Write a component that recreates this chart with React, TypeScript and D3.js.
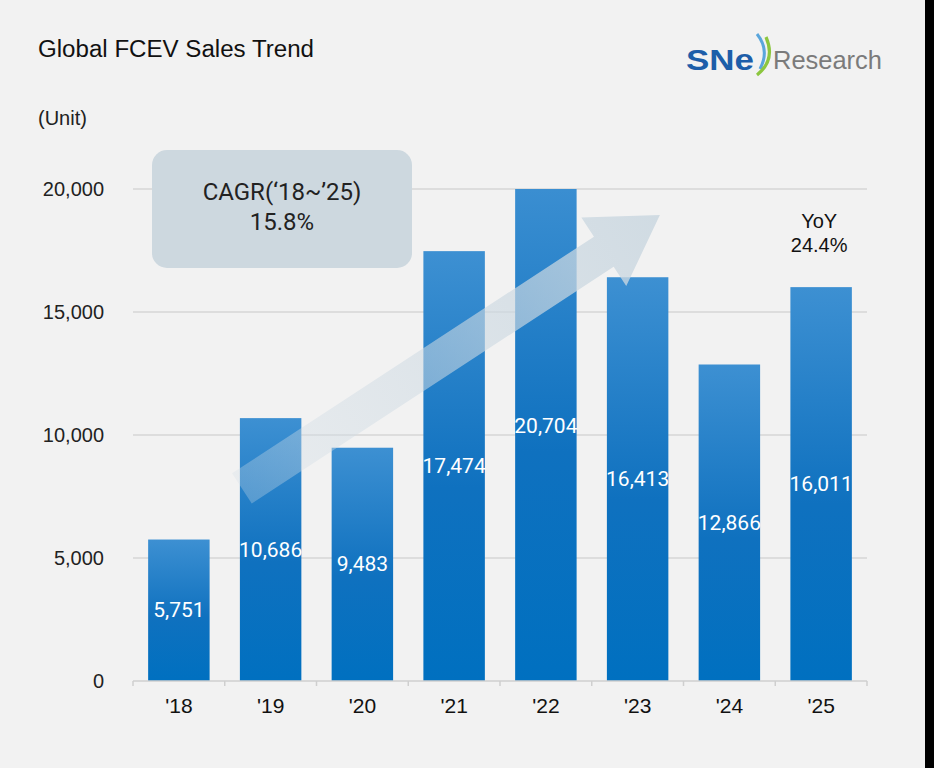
import React from "react";
import * as d3 from "d3";

// Global FCEV sales by year (units)
const years = ["'18", "'19", "'20", "'21", "'22", "'23", "'24", "'25"];
const sales = [5751, 10686, 9483, 17474, 20704, 16413, 12866, 16011];
const yTicks = [0, 5000, 10000, 15000, 20000];
const cagrLines = ["CAGR(\u201818~\u201925)", "15.8%"];
const yoyLines = ["YoY", "24.4%"];

const W = 934;
const H = 768;
const plot = { left: 133, right: 867, top: 189, bottom: 681 };

export default function App() {
  const x = d3
    .scaleBand<string>()
    .domain(years)
    .range([plot.left, plot.right])
    .paddingInner(0.33)
    .paddingOuter(0.165);
  const y = d3.scaleLinear().domain([0, 20000]).range([plot.bottom, plot.top]);
  const fmt = d3.format(",");
  const bw = x.bandwidth();
  const step = x.step();

  // growth arrow, anchored to the plot scales
  const T: [number, number] = [(x("'19") as number) + 2, y(7830)];
  const P: [number, number] = [(x("'23") as number) + 53, y(18940)];
  const dx = P[0] - T[0];
  const dy = P[1] - T[1];
  const L = Math.hypot(dx, dy);
  const u = [dx / L, dy / L];
  const n = [-u[1], u[0]];
  const headLen = 67;
  const halfShaft = 18;
  const halfHead = 41;
  const B = [P[0] - u[0] * headLen, P[1] - u[1] * headLen];
  const pt = (p: number[], k: number) => [p[0] + n[0] * k, p[1] + n[1] * k];
  const arrowPts = [
    pt(T, -halfShaft),
    pt(B, -halfShaft),
    pt(B, -halfHead),
    P,
    pt(B, halfHead),
    pt(B, halfShaft),
    pt(T, halfShaft),
  ];
  const arrowPath = d3.line()(arrowPts as [number, number][]) + "Z";

  const boundaries = d3.range(years.length + 1).map((i) => plot.left + i * step);

  return (
    <svg
      width={W}
      height={H}
      style={{ position: "absolute", left: 0, top: 0, display: "block" }}
      fontFamily="'Liberation Sans', Arial, sans-serif"
    >
      <defs>
        <linearGradient id="barGrad" x1="0" y1="0" x2="0" y2="1">
          <stop offset="0" stopColor="#3d90d2" />
          <stop offset="0.55" stopColor="#0f71bf" />
          <stop offset="1" stopColor="#0070c0" />
        </linearGradient>
        <linearGradient
          id="arrowGrad"
          gradientUnits="userSpaceOnUse"
          x1={T[0]}
          y1={T[1]}
          x2={P[0]}
          y2={P[1]}
        >
          <stop offset="0" stopColor="#d3dee6" stopOpacity={0.3} />
          <stop offset="0.5" stopColor="#cdd9e2" stopOpacity={0.58} />
          <stop offset="1" stopColor="#cad7e0" stopOpacity={0.85} />
        </linearGradient>
        <clipPath id="plotClip">
          <rect x={0} y={plot.top} width={W} height={plot.bottom - plot.top + 1} />
        </clipPath>
      </defs>

      <rect x={0} y={0} width={W} height={H} fill="#f2f2f2" />
      <rect x={925} y={0} width={W - 925} height={H} fill="#000" />

      {/* title and unit */}
      <text x={38} y={57} fontSize={23} fill="#111" textLength={276} lengthAdjust="spacingAndGlyphs">
        Global FCEV Sales Trend
      </text>
      <text x={38} y={125} fontSize={20} fill="#222">
        (Unit)
      </text>

      {/* logo */}
      <g>
        <text
          x={686}
          y={70}
          fontSize={30}
          fontWeight="bold"
          fill="#1d5ea9"
          textLength={68}
          lengthAdjust="spacingAndGlyphs"
        >
          SNe
        </text>
        <path d="M 757 34 Q 770 50 760 69" fill="none" stroke="#5aa6dc" strokeWidth={3} />
        <path d="M 766 37 Q 776 60 757 75" fill="none" stroke="#8cc63f" strokeWidth={3.2} />
        <text x={773} y={69} fontSize={26} fill="#7b7b7b" textLength={109} lengthAdjust="spacingAndGlyphs">
          Research
        </text>
      </g>

      {/* gridlines */}
      {yTicks
        .filter((t) => t > 0)
        .map((t) => (
          <line key={t} x1={plot.left} x2={plot.right} y1={y(t)} y2={y(t)} stroke="#d6d6d6" strokeWidth={1.5} />
        ))}

      {/* y tick labels */}
      {yTicks.map((t) => (
        <text
          key={t}
          x={104}
          y={y(t)}
          fontSize={20}
          textAnchor="end"
          dominantBaseline="central"
          fill="#222"
        >
          {fmt(t)}
        </text>
      ))}

      {/* bars */}
      <g clipPath="url(#plotClip)">
        {sales.map((v, i) => (
          <rect
            key={years[i]}
            x={x(years[i])}
            y={y(v)}
            width={bw}
            height={y(0) - y(v)}
            fill="url(#barGrad)"
          />
        ))}
      </g>

      {/* x axis */}
      <line x1={plot.left} x2={plot.right} y1={plot.bottom} y2={plot.bottom} stroke="#cfcfcf" strokeWidth={1.5} />
      {boundaries.map((bx, i) => (
        <line key={i} x1={bx} x2={bx} y1={plot.bottom} y2={plot.bottom + 5} stroke="#cfcfcf" strokeWidth={1.5} />
      ))}
      {years.map((c) => (
        <text
          key={c}
          x={(x(c) as number) + bw / 2}
          y={705}
          fontSize={21}
          textAnchor="middle"
          dominantBaseline="central"
          fill="#111"
        >
          {c}
        </text>
      ))}

      {/* growth arrow */}
      <path d={arrowPath} fill="url(#arrowGrad)" />

      {/* value labels */}
      {sales.map((v, i) => (
        <text
          key={years[i]}
          x={(x(years[i]) as number) + bw / 2}
          y={y(v / 2)}
          fontSize={21}
          fontFamily="Roboto, 'Liberation Sans', sans-serif"
          textAnchor="middle"
          dominantBaseline="central"
          fill="#fff"
        >
          {fmt(v)}
        </text>
      ))}

      {/* CAGR callout */}
      <rect x={152} y={150} width={260} height={118} rx={15} fill="#cdd8df" />
      {cagrLines.map((s, i) => (
        <text
          key={s}
          x={282}
          y={192 + i * 30}
          fontSize={24}
          fontFamily="Roboto, 'Liberation Sans', sans-serif"
          textAnchor="middle"
          dominantBaseline="central"
          fill="#222"
        >
          {s}
        </text>
      ))}

      {/* YoY note */}
      {yoyLines.map((s, i) => (
        <text
          key={s}
          x={(x("'25") as number) + bw / 2 - 2}
          y={221 + i * 24}
          fontSize={20}
          textAnchor="middle"
          dominantBaseline="central"
          fill="#111"
        >
          {s}
        </text>
      ))}
    </svg>
  );
}
